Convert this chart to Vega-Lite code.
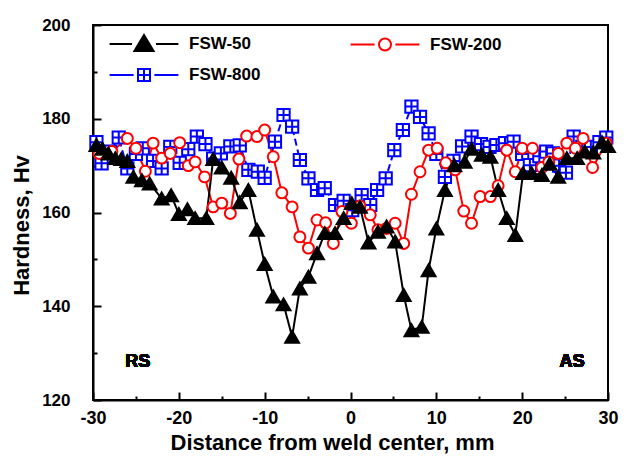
{
  "$schema": "https://vega.github.io/schema/vega-lite/v6.json",
  "width": 515,
  "height": 375,
  "autosize": {"type": "none"},
  "padding": {"left": 93, "top": 25, "right": 22, "bottom": 61},
  "background": "white",
  "config": {
    "view": {"stroke": "black", "strokeWidth": 2},
    "font": "Liberation Sans",
    "axis": {
      "grid": false,
      "domainColor": "black",
      "domainWidth": 2,
      "tickColor": "black",
      "tickWidth": 2,
      "labelFont": "Liberation Sans",
      "labelFontWeight": "bold",
      "labelFontSize": 18,
      "labelColor": "black",
      "titleFont": "Liberation Sans",
      "titleFontWeight": "bold",
      "titleFontSize": 22,
      "titleColor": "black"
    }
  },
  "data": {
    "values": [
      {"s": "FSW-800", "x": -29.6, "y": 175.0},
      {"s": "FSW-800", "x": -29.0, "y": 170.5},
      {"s": "FSW-800", "x": -28.0, "y": 173.0},
      {"s": "FSW-800", "x": -27.0, "y": 176.0},
      {"s": "FSW-800", "x": -26.0, "y": 169.4},
      {"s": "FSW-800", "x": -25.0, "y": 172.5},
      {"s": "FSW-800", "x": -24.2, "y": 173.7},
      {"s": "FSW-800", "x": -23.0, "y": 171.0},
      {"s": "FSW-800", "x": -22.0, "y": 169.4},
      {"s": "FSW-800", "x": -21.0, "y": 174.0},
      {"s": "FSW-800", "x": -19.9, "y": 170.6},
      {"s": "FSW-800", "x": -18.9, "y": 173.5},
      {"s": "FSW-800", "x": -17.9, "y": 176.2},
      {"s": "FSW-800", "x": -16.9, "y": 174.6},
      {"s": "FSW-800", "x": -16.0, "y": 171.5},
      {"s": "FSW-800", "x": -15.1, "y": 172.6},
      {"s": "FSW-800", "x": -14.0, "y": 174.1},
      {"s": "FSW-800", "x": -12.9, "y": 174.3},
      {"s": "FSW-800", "x": -11.9, "y": 169.1},
      {"s": "FSW-800", "x": -10.8, "y": 168.7},
      {"s": "FSW-800", "x": -10.0, "y": 167.4},
      {"s": "FSW-800", "x": -8.8, "y": 175.1},
      {"s": "FSW-800", "x": -7.8, "y": 180.8},
      {"s": "FSW-800", "x": -6.8, "y": 178.3},
      {"s": "FSW-800", "x": -5.9, "y": 171.2},
      {"s": "FSW-800", "x": -4.9, "y": 167.3},
      {"s": "FSW-800", "x": -3.9, "y": 164.8},
      {"s": "FSW-800", "x": -3.0, "y": 165.2},
      {"s": "FSW-800", "x": -1.8, "y": 161.6},
      {"s": "FSW-800", "x": -0.8, "y": 162.5},
      {"s": "FSW-800", "x": 0.2, "y": 160.5},
      {"s": "FSW-800", "x": 1.3, "y": 163.7},
      {"s": "FSW-800", "x": 2.3, "y": 161.6},
      {"s": "FSW-800", "x": 3.1, "y": 164.8},
      {"s": "FSW-800", "x": 4.1, "y": 167.3},
      {"s": "FSW-800", "x": 5.1, "y": 173.3},
      {"s": "FSW-800", "x": 6.1, "y": 177.6},
      {"s": "FSW-800", "x": 7.1, "y": 182.6},
      {"s": "FSW-800", "x": 8.1, "y": 180.4},
      {"s": "FSW-800", "x": 9.1, "y": 176.9},
      {"s": "FSW-800", "x": 10.0, "y": 172.5},
      {"s": "FSW-800", "x": 11.0, "y": 167.6},
      {"s": "FSW-800", "x": 12.0, "y": 171.0},
      {"s": "FSW-800", "x": 13.0, "y": 174.1},
      {"s": "FSW-800", "x": 14.1, "y": 176.2},
      {"s": "FSW-800", "x": 15.2, "y": 174.6},
      {"s": "FSW-800", "x": 16.2, "y": 174.0},
      {"s": "FSW-800", "x": 17.0, "y": 174.4},
      {"s": "FSW-800", "x": 18.0, "y": 174.8},
      {"s": "FSW-800", "x": 19.0, "y": 175.1},
      {"s": "FSW-800", "x": 20.0, "y": 172.5},
      {"s": "FSW-800", "x": 20.9, "y": 170.1},
      {"s": "FSW-800", "x": 22.0, "y": 172.0},
      {"s": "FSW-800", "x": 22.8, "y": 173.0},
      {"s": "FSW-800", "x": 23.6, "y": 172.6},
      {"s": "FSW-800", "x": 24.3, "y": 170.0},
      {"s": "FSW-800", "x": 25.1, "y": 168.5},
      {"s": "FSW-800", "x": 26.0, "y": 176.2},
      {"s": "FSW-800", "x": 27.0, "y": 174.0},
      {"s": "FSW-800", "x": 28.0, "y": 174.0},
      {"s": "FSW-800", "x": 29.0, "y": 175.0},
      {"s": "FSW-800", "x": 29.8, "y": 176.0},

      {"s": "FSW-200", "x": -29.3, "y": 172.6},
      {"s": "FSW-200", "x": -27.8, "y": 173.0},
      {"s": "FSW-200", "x": -26.0, "y": 175.8},
      {"s": "FSW-200", "x": -25.0, "y": 173.7},
      {"s": "FSW-200", "x": -23.9, "y": 168.8},
      {"s": "FSW-200", "x": -23.0, "y": 174.8},
      {"s": "FSW-200", "x": -22.0, "y": 171.6},
      {"s": "FSW-200", "x": -21.0, "y": 172.6},
      {"s": "FSW-200", "x": -19.9, "y": 174.9},
      {"s": "FSW-200", "x": -18.9, "y": 170.0},
      {"s": "FSW-200", "x": -18.1, "y": 170.8},
      {"s": "FSW-200", "x": -17.0, "y": 167.6},
      {"s": "FSW-200", "x": -16.0, "y": 161.2},
      {"s": "FSW-200", "x": -15.0, "y": 162.0},
      {"s": "FSW-200", "x": -14.0, "y": 159.8},
      {"s": "FSW-200", "x": -13.0, "y": 171.4},
      {"s": "FSW-200", "x": -12.1, "y": 176.3},
      {"s": "FSW-200", "x": -10.9, "y": 176.2},
      {"s": "FSW-200", "x": -10.0, "y": 177.6},
      {"s": "FSW-200", "x": -9.0, "y": 171.9},
      {"s": "FSW-200", "x": -8.0, "y": 164.2},
      {"s": "FSW-200", "x": -6.8, "y": 161.2},
      {"s": "FSW-200", "x": -5.9, "y": 154.8},
      {"s": "FSW-200", "x": -4.9, "y": 152.4},
      {"s": "FSW-200", "x": -3.9, "y": 158.4},
      {"s": "FSW-200", "x": -2.9, "y": 157.8},
      {"s": "FSW-200", "x": -2.0, "y": 153.4},
      {"s": "FSW-200", "x": -1.0, "y": 160.2},
      {"s": "FSW-200", "x": 0.1, "y": 157.7},
      {"s": "FSW-200", "x": 1.1, "y": 161.4},
      {"s": "FSW-200", "x": 2.3, "y": 159.5},
      {"s": "FSW-200", "x": 3.2, "y": 156.3},
      {"s": "FSW-200", "x": 4.2, "y": 156.6},
      {"s": "FSW-200", "x": 5.2, "y": 157.7},
      {"s": "FSW-200", "x": 6.2, "y": 153.4},
      {"s": "FSW-200", "x": 7.1, "y": 163.9},
      {"s": "FSW-200", "x": 8.1, "y": 168.7},
      {"s": "FSW-200", "x": 9.1, "y": 173.3},
      {"s": "FSW-200", "x": 10.1, "y": 173.7},
      {"s": "FSW-200", "x": 11.1, "y": 170.6},
      {"s": "FSW-200", "x": 12.2, "y": 169.1},
      {"s": "FSW-200", "x": 13.2, "y": 160.3},
      {"s": "FSW-200", "x": 14.1, "y": 157.7},
      {"s": "FSW-200", "x": 15.1, "y": 163.4},
      {"s": "FSW-200", "x": 16.3, "y": 163.4},
      {"s": "FSW-200", "x": 17.2, "y": 165.7},
      {"s": "FSW-200", "x": 18.2, "y": 173.3},
      {"s": "FSW-200", "x": 19.2, "y": 168.7},
      {"s": "FSW-200", "x": 20.0, "y": 173.7},
      {"s": "FSW-200", "x": 21.2, "y": 173.7},
      {"s": "FSW-200", "x": 22.3, "y": 169.6},
      {"s": "FSW-200", "x": 23.1, "y": 170.8},
      {"s": "FSW-200", "x": 24.2, "y": 172.6},
      {"s": "FSW-200", "x": 25.2, "y": 174.8},
      {"s": "FSW-200", "x": 26.2, "y": 173.7},
      {"s": "FSW-200", "x": 27.1, "y": 175.8},
      {"s": "FSW-200", "x": 28.2, "y": 169.6},
      {"s": "FSW-200", "x": 29.8, "y": 174.8},

      {"s": "FSW-50", "x": -29.6, "y": 174.4},
      {"s": "FSW-50", "x": -28.9, "y": 173.6},
      {"s": "FSW-50", "x": -28.2, "y": 172.6},
      {"s": "FSW-50", "x": -27.4, "y": 171.6},
      {"s": "FSW-50", "x": -26.7, "y": 171.4},
      {"s": "FSW-50", "x": -26.0, "y": 171.0},
      {"s": "FSW-50", "x": -25.3, "y": 167.6},
      {"s": "FSW-50", "x": -24.3, "y": 166.9},
      {"s": "FSW-50", "x": -23.4, "y": 166.2},
      {"s": "FSW-50", "x": -22.0, "y": 163.0},
      {"s": "FSW-50", "x": -20.9, "y": 163.7},
      {"s": "FSW-50", "x": -20.0, "y": 159.7},
      {"s": "FSW-50", "x": -19.0, "y": 160.7},
      {"s": "FSW-50", "x": -18.1, "y": 158.8},
      {"s": "FSW-50", "x": -16.8, "y": 158.8},
      {"s": "FSW-50", "x": -16.0, "y": 171.4},
      {"s": "FSW-50", "x": -15.0, "y": 169.6},
      {"s": "FSW-50", "x": -13.9, "y": 167.4},
      {"s": "FSW-50", "x": -12.9, "y": 162.2},
      {"s": "FSW-50", "x": -11.9, "y": 164.8},
      {"s": "FSW-50", "x": -10.9, "y": 156.3},
      {"s": "FSW-50", "x": -10.0, "y": 149.0},
      {"s": "FSW-50", "x": -9.0, "y": 142.1},
      {"s": "FSW-50", "x": -7.8, "y": 140.4},
      {"s": "FSW-50", "x": -6.8, "y": 133.5},
      {"s": "FSW-50", "x": -5.9, "y": 143.8},
      {"s": "FSW-50", "x": -4.9, "y": 146.3},
      {"s": "FSW-50", "x": -3.9, "y": 151.3},
      {"s": "FSW-50", "x": -3.0, "y": 155.6},
      {"s": "FSW-50", "x": -1.8, "y": 155.6},
      {"s": "FSW-50", "x": -0.8, "y": 158.8},
      {"s": "FSW-50", "x": 0.15, "y": 162.0},
      {"s": "FSW-50", "x": 1.1, "y": 161.2},
      {"s": "FSW-50", "x": 2.1, "y": 153.6},
      {"s": "FSW-50", "x": 3.2, "y": 155.9},
      {"s": "FSW-50", "x": 4.2, "y": 157.0},
      {"s": "FSW-50", "x": 5.2, "y": 153.8},
      {"s": "FSW-50", "x": 6.2, "y": 142.4},
      {"s": "FSW-50", "x": 7.1, "y": 134.9},
      {"s": "FSW-50", "x": 8.3, "y": 135.6},
      {"s": "FSW-50", "x": 9.1, "y": 147.7},
      {"s": "FSW-50", "x": 10.0, "y": 156.6},
      {"s": "FSW-50", "x": 11.0, "y": 164.8},
      {"s": "FSW-50", "x": 12.1, "y": 170.1},
      {"s": "FSW-50", "x": 13.3, "y": 170.8},
      {"s": "FSW-50", "x": 14.1, "y": 173.6},
      {"s": "FSW-50", "x": 15.3, "y": 172.3},
      {"s": "FSW-50", "x": 16.3, "y": 171.9},
      {"s": "FSW-50", "x": 17.2, "y": 164.8},
      {"s": "FSW-50", "x": 18.2, "y": 158.8},
      {"s": "FSW-50", "x": 19.2, "y": 155.2},
      {"s": "FSW-50", "x": 20.1, "y": 168.4},
      {"s": "FSW-50", "x": 21.1, "y": 168.4},
      {"s": "FSW-50", "x": 22.3, "y": 168.0},
      {"s": "FSW-50", "x": 23.2, "y": 170.4},
      {"s": "FSW-50", "x": 24.2, "y": 167.6},
      {"s": "FSW-50", "x": 25.2, "y": 171.6},
      {"s": "FSW-50", "x": 26.4, "y": 171.6},
      {"s": "FSW-50", "x": 27.3, "y": 173.0},
      {"s": "FSW-50", "x": 28.3, "y": 172.8},
      {"s": "FSW-50", "x": 29.3, "y": 175.0},
      {"s": "FSW-50", "x": 30.0, "y": 174.2}
    ]
  },
  "encoding": {
    "x": {
      "field": "x",
      "type": "quantitative",
      "scale": {"domain": [-30, 30], "nice": false, "zero": false},
      "axis": {
        "title": "Distance from weld center, mm",
        "values": [-30, -25, -20, -15, -10, -5, 0, 5, 10, 15, 20, 25, 30],
        "labelExpr": "datum.value % 10 === 0 ? '' + datum.value : ''",
        "tickSize": {"condition": {"test": "datum.value % 10 === 0", "value": -8}, "value": -4},
        "labelPadding": 17,
        "labelFlush": false,
        "titlePadding": 5,
        "titleX": 239
      }
    },
    "y": {
      "field": "y",
      "type": "quantitative",
      "scale": {"domain": [120, 200], "nice": false, "zero": false},
      "axis": {
        "title": "Hardness, Hv",
        "values": [120, 130, 140, 150, 160, 170, 180, 190, 200],
        "labelExpr": "datum.value % 20 === 0 ? '' + datum.value : ''",
        "tickSize": {"condition": {"test": "datum.value % 20 === 0", "value": -8}, "value": -4},
        "labelPadding": 31,
        "labelFlush": false,
        "labelFontSize": 17,
        "titlePadding": 8,
        "titleY": 200
      }
    }
  },
  "layer": [
    {
      "mark": {"type": "line", "strokeWidth": 2},
      "encoding": {
        "color": {
          "field": "s",
          "type": "nominal",
          "scale": {"range": ["red", "black", "blue"]},
          "legend": null
        },
        "strokeDash": {
          "field": "s",
          "type": "nominal",
          "scale": {"range": [[1, 0], [1, 0], [7, 4]]},
          "legend": null
        }
      }
    },
    {
      "transform": [{"filter": "datum.s === 'FSW-800'"}],
      "mark": {"type": "point", "filled": true, "shape": "M-1,-1L1,-1L1,1L-1,1ZM0,-1L0,1M-1,0L1,0", "size": 150, "fill": "white", "stroke": "blue", "strokeWidth": 2, "opacity": 1}
    },
    {
      "transform": [{"filter": "datum.s === 'FSW-200'"}],
      "mark": {"type": "point", "filled": true, "shape": "circle", "size": 120, "fill": "white", "stroke": "red", "strokeWidth": 2, "opacity": 1}
    },
    {
      "transform": [{"filter": "datum.s === 'FSW-50'"}],
      "mark": {"type": "point", "filled": true, "shape": "triangle-up", "size": 190, "fill": "black", "stroke": "black", "strokeWidth": 2, "opacity": 1}
    },
    {
      "transform": [{"filter": "datum.x > 1000"}],
      "mark": {"type": "point", "filled": true, "strokeWidth": 2, "opacity": 1},
      "encoding": {
        "shape": {
          "field": "s",
          "type": "nominal",
          "scale": {
            "domain": ["FSW-50", "FSW-200", "FSW-800"],
            "range": [
              "M-4.3,0L-1.5,0M1.5,0L4.3,0M0,-1.15L1.2,0.85L-1.2,0.85Z",
              "M-4.3,0L-1.3,0M1.3,0L4.3,0M-0.75,0A0.75,0.75 0 1,0 0.75,0A0.75,0.75 0 1,0 -0.75,0Z",
              "M-4.3,0L-1.3,0M1.3,0L4.3,0M-0.75,-0.75L0.75,-0.75L0.75,0.75L-0.75,0.75ZM0,-0.75L0,0.75M-0.75,0L0.75,0"
            ]
          }
        },
        "fill": {
          "field": "s",
          "type": "nominal",
          "scale": {"domain": ["FSW-50", "FSW-200", "FSW-800"], "range": ["black", "white", "white"]}
        },
        "stroke": {
          "field": "s",
          "type": "nominal",
          "scale": {"domain": ["FSW-50", "FSW-200", "FSW-800"], "range": ["black", "red", "blue"]},
          "legend": {
            "title": null,
            "orient": "none",
            "legendX": 42,
            "legendY": 10,
            "columns": 2,
            "direction": "horizontal",
            "padding": 0,
            "columnPadding": 85,
            "rowPadding": 10,
            "symbolSize": 256,
            "symbolStrokeWidth": 2,
            "symbolOpacity": 1,
            "labelOffset": 36,
            "labelFont": "Liberation Sans",
            "labelFontWeight": "bold",
            "labelFontSize": 17,
            "labelColor": "black"
          }
        }
      }
    },
    {
      "mark": {"type": "text", "font": "Liberation Sans", "fontWeight": "bold", "fontSize": 18, "color": "black"},
      "encoding": {
        "x": {"datum": -24.8},
        "y": {"datum": 128.1},
        "text": {"value": "RS"}
      }
    },
    {
      "mark": {"type": "text", "font": "Liberation Sans", "fontWeight": "bold", "fontSize": 18, "color": "black"},
      "encoding": {
        "x": {"datum": 25.8},
        "y": {"datum": 128.1},
        "text": {"value": "AS"}
      }
    }
  ]
}
